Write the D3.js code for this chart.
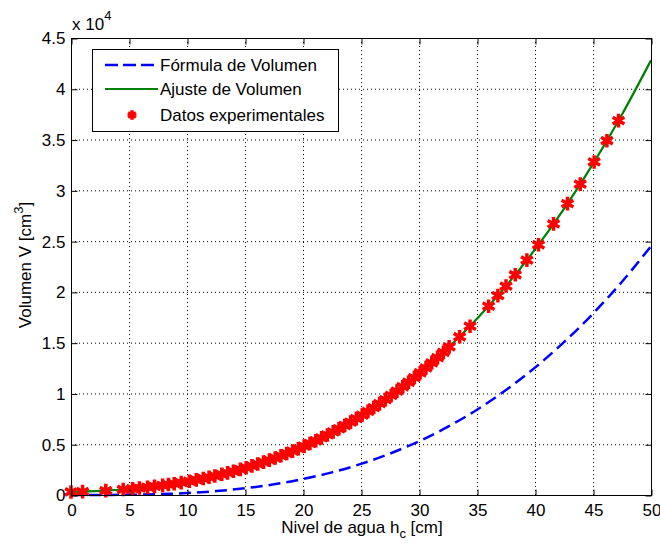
<!DOCTYPE html>
<html>
<head>
<meta charset="utf-8">
<script src="https://cdn.jsdelivr.net/npm/d3@7"></script>
<style>
    body { margin: 0; background: #fff; }
    svg text { font-family: "Liberation Sans", Arial, sans-serif; font-size: 17px; fill: #000; }
    .grid line { stroke: #000; stroke-width: 1; stroke-dasharray: 1, 3; }
    .axis line { stroke: #000; }
</style>
</head>
<body>
<div class="container"></div>
<script>
// curves sampled every 2.5 cm
const hSamples = [0, 2.5, 5, 7.5, 10, 12.5, 15, 17.5, 20, 22.5, 25, 27.5, 30, 32.5, 35, 37.5, 40, 42.5, 45, 47.5, 50];
const formulaV = [0, 3, 25, 83, 196, 383, 662, 1050, 1570, 2230, 3060, 4080, 5290, 6730, 8400, 10340, 12540, 15050, 17860, 21000, 24500];
const ajusteV = [300, 400, 590, 890, 1320, 1900, 2655, 3600, 4760, 6150, 7800, 9720, 11940, 14475, 17345, 20575, 24180, 28185, 32610, 37475, 42800];

// experimental points
const datosH = [0, 1.0, 3.0, 4.5, 5.3, 5.9, 6.6, 7.2, 7.9, 8.4, 8.9, 9.5, 10.2, 10.8, 11.4, 11.9, 12.4,
    13.0, 13.5, 14.0, 14.6, 15.1, 15.6, 16.1, 16.6, 17.1, 17.6, 18.1, 18.6, 19.1, 19.6, 20.1, 20.6,
    21.1, 21.6, 22.1, 22.6, 23.1, 23.6, 24.1, 24.6, 25.1, 25.6, 26.1, 26.6, 27.1, 27.6, 28.1, 28.6,
    29.1, 29.6, 30.1, 30.6, 31.1, 31.6, 32.1, 32.6, 33.5, 34.4, 36.0, 36.8, 37.5, 38.3, 39.3, 40.3,
    41.6, 42.8, 43.9, 45.1, 46.2, 47.2];
const datosV = [300, 331, 430, 544, 620, 684, 768, 847, 949, 1029, 1113, 1222, 1361, 1489, 1626, 1747, 1875,
    2038, 2181, 2332, 2522, 2689, 2864, 3046, 3237, 3436, 3643, 3859, 4084, 4317, 4560, 4811, 5072,
    5343, 5623, 5914, 6214, 6524, 6845, 7177, 7519, 7872, 8236, 8611, 8997, 9395, 9805, 10227, 10660,
    11106, 11565, 12035, 12519, 13015, 13524, 14047, 14582, 15581, 16624, 18592, 19632, 20573, 21686, 23131, 24640,
    26696, 28694, 30609, 32797, 34889, 36866];

const xTicks = [0, 5, 10, 15, 20, 25, 30, 35, 40, 45, 50];
const yTicks = [0, 5000, 10000, 15000, 20000, 25000, 30000, 35000, 40000, 45000];
const yTickLabels = ["0", "0.5", "1", "1.5", "2", "2.5", "3", "3.5", "4", "4.5"];

const legendItems = ["Fórmula de Volumen", "Ajuste de Volumen", "Datos experimentales"];

const W = 660, H = 546;
const margin = {top: 38, right: 9, bottom: 51, left: 71};
const w = W - margin.left - margin.right, h = H - margin.top - margin.bottom;

const svg = d3.select('.container')
    .append('svg')
    .attr('width', W)
    .attr('height', H);

const x = d3.scaleLinear().domain([0, 50]).range([0, w]);
const y = d3.scaleLinear().domain([0, 45000]).range([h, 0]);

const g = svg.append('g').attr('transform', `translate(${margin.left},${margin.top})`);

// dotted grid
g.append('g').attr('class', 'grid')
    .selectAll('line')
    .data(xTicks.slice(1, -1))
    .join('line')
    .attr('x1', d => x(d) + 0.5).attr('x2', d => x(d) + 0.5)
    .attr('y1', 0).attr('y2', h);
g.append('g').attr('class', 'grid')
    .selectAll('line')
    .data(yTicks.slice(1, -1))
    .join('line')
    .attr('y1', d => y(d) + 0.5).attr('y2', d => y(d) + 0.5)
    .attr('x1', 0).attr('x2', w);

const pts = (xs, ys) => xs.map((d, i) => [d, ys[i]]);
const line = d3.line().x(d => x(d[0])).y(d => y(d[1])).curve(d3.curveMonotoneX);

g.append('path')
    .attr('d', line(pts(hSamples, formulaV)))
    .attr('fill', 'none')
    .attr('stroke', '#0000ff')
    .attr('stroke-width', 2.5)
    .attr('stroke-dasharray', '12,6');

g.append('path')
    .attr('d', line(pts(hSamples, ajusteV)))
    .attr('fill', 'none')
    .attr('stroke', '#008000')
    .attr('stroke-width', 2.2);

const star = d3.symbol().type(d3.symbolAsterisk).size(130);

g.append('g')
    .selectAll('path')
    .data(pts(datosH, datosV))
    .join('path')
    .attr('transform', d => `translate(${x(d[0])},${y(d[1])})`)
    .attr('d', star)
    .attr('fill', 'none')
    .attr('stroke', '#ff0000')
    .attr('stroke-width', 3.5);

// frame
g.append('rect')
    .attr('x', 0.5).attr('y', 0.5)
    .attr('width', w).attr('height', h)
    .attr('fill', 'none')
    .attr('stroke', '#000');

// ticks, inward like matlab
g.append('g').attr('class', 'axis')
    .attr('transform', `translate(0.5,${h + 0.5})`)
    .call(d3.axisBottom(x).tickValues(xTicks).tickSize(-6).tickPadding(8))
    .call(a => a.select('.domain').remove())
    .selectAll('text').style('font-size', '17px').style('font-family', '"Liberation Sans", Arial, sans-serif');
g.append('g').attr('class', 'axis')
    .attr('transform', 'translate(0.5,0.5)')
    .call(d3.axisTop(x).tickValues(xTicks).tickSize(-6).tickFormat(''))
    .call(a => a.select('.domain').remove());
g.append('g').attr('class', 'axis')
    .attr('transform', 'translate(0.5,0.5)')
    .call(d3.axisLeft(y).tickValues(yTicks).tickSize(-6).tickPadding(6)
        .tickFormat((d, i) => yTickLabels[i]))
    .call(a => a.select('.domain').remove())
    .selectAll('text').style('font-size', '17px').style('font-family', '"Liberation Sans", Arial, sans-serif');
g.append('g').attr('class', 'axis')
    .attr('transform', `translate(${w + 0.5},0.5)`)
    .call(d3.axisRight(y).tickValues(yTicks).tickSize(-6).tickFormat(''))
    .call(a => a.select('.domain').remove());

// exponent
const ex = svg.append('text').attr('x', 72).attr('y', 30);
ex.append('tspan').text('x 10');
ex.append('tspan').attr('dy', -10).style('font-size', '13px').text('4');

// axis labels
const xl = svg.append('text')
    .attr('x', margin.left + w / 2 + 1).attr('y', 533)
    .attr('text-anchor', 'middle');
xl.append('tspan').text('Nivel de agua h');
xl.append('tspan').attr('dy', 5).style('font-size', '13px').text('c');
xl.append('tspan').attr('dy', -5).text(' [cm]');

const yl = svg.append('text')
    .attr('transform', 'translate(31,265) rotate(-90)')
    .attr('text-anchor', 'middle');
yl.append('tspan').text('Volumen V [cm');
yl.append('tspan').attr('dy', -8).style('font-size', '13px').text('3');
yl.append('tspan').attr('dy', 8).text(']');

// legend
const lg = svg.append('g').attr('transform', 'translate(92,49)');
lg.append('rect')
    .attr('x', 0.5).attr('y', 0.5)
    .attr('width', 246).attr('height', 82)
    .attr('fill', '#fff').attr('stroke', '#000');
const rowY = [16, 40, 66];
lg.append('line')
    .attr('x1', 13).attr('x2', 66).attr('y1', rowY[0]).attr('y2', rowY[0])
    .attr('stroke', '#0000ff').attr('stroke-width', 2.5).attr('stroke-dasharray', '13,5');
lg.append('line')
    .attr('x1', 13).attr('x2', 66).attr('y1', rowY[1]).attr('y2', rowY[1])
    .attr('stroke', '#008000').attr('stroke-width', 2.2);
lg.append('path')
    .attr('transform', `translate(40,${rowY[2]})`)
    .attr('d', d3.symbol().type(d3.symbolAsterisk).size(60)())
    .attr('fill', 'none').attr('stroke', '#ff0000').attr('stroke-width', 3.5);
lg.selectAll('text.item')
    .data(legendItems)
    .join('text')
    .attr('class', 'item')
    .attr('x', 68)
    .attr('y', (d, i) => rowY[i] + 6)
    .text(d => d);
</script>
</body>
</html>
